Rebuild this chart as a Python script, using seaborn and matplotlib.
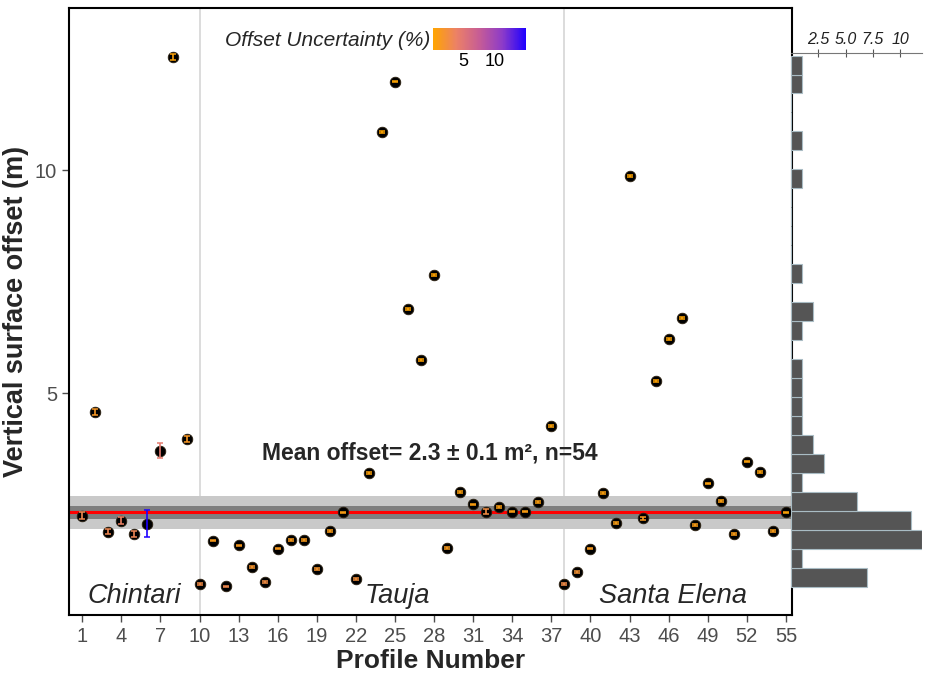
import numpy as np
import pandas as pd
import matplotlib
matplotlib.use("Agg")
import matplotlib.pyplot as plt
import seaborn as sns
from matplotlib.colors import LinearSegmentedColormap, Normalize
from matplotlib.cm import ScalarMappable

# Profile data
profile = list(range(1, 56))
offset = [2.26, 4.58, 1.90, 2.14, 1.85, 2.08, 3.71, 12.54, 3.98,
          0.73, 1.70, 0.67, 1.59, 1.10, 0.77, 1.52, 1.71, 1.71, 1.06,
          1.92, 2.33, 0.84, 3.22, 10.86, 11.99, 6.89, 5.75, 7.65, 1.54,
          2.78, 2.51, 2.35, 2.46, 2.35, 2.35, 2.56, 4.27,
          0.72, 0.99, 1.52, 2.76, 2.09, 9.87, 2.20, 5.28, 6.22, 6.69,
          2.04, 2.98, 2.59, 1.85, 3.47, 3.24, 1.92, 2.33]
error = [0.07, 0.07, 0.06, 0.08, 0.06, 0.31, 0.17, 0.07, 0.06,
         0.02, 0.02, 0.02, 0.02, 0.02, 0.02, 0.02, 0.02, 0.02, 0.02,
         0.02, 0.02, 0.02, 0.02, 0.02, 0.02, 0.02, 0.02, 0.02, 0.02,
         0.02, 0.02, 0.06, 0.02, 0.02, 0.02, 0.02, 0.02,
         0.02, 0.02, 0.02, 0.02, 0.02, 0.02, 0.03, 0.02, 0.02, 0.02,
         0.02, 0.02, 0.02, 0.02, 0.02, 0.02, 0.02, 0.01]

mean_offset = 2.33
band_outer = 0.37
band_inner = 0.14
segment_breaks = [10, 38]
regions = ["Chintari", "Tauja", "Santa Elena"]
region_x = [5, 25.2, 46.3]
hist_start, hist_width, hist_nbins = 0.655, 0.4257, 28

df = pd.DataFrame({"profile": profile, "offset": offset, "error": error})
df["pct"] = df["error"] / df["offset"] * 100

sns.set_style("white")
plt.rcParams["font.family"] = ["Liberation Sans", "DejaVu Sans"]

cmap = LinearSegmentedColormap.from_list(
    "unc", ["#FFA500", "#EC8166", "#C65C96", "#8C3BC9", "#1E00FF"])
norm = Normalize(df["pct"].min(), df["pct"].max())

fig = plt.figure(figsize=(9.35, 6.75), dpi=100)
ax = fig.add_axes([69 / 935, 60 / 675, 723 / 935, 607 / 675])
axh = fig.add_axes([791 / 935, 60 / 675, 131 / 935, 562 / 675])

ylo, yhi = 0.03, 13.64
ax.set_xlim(-0.02, 55.47)
ax.set_ylim(ylo, yhi)

for xb in segment_breaks:
    ax.axvline(xb, color="#D6D6D6", lw=1.2, zorder=0)
ax.axhspan(mean_offset - band_outer, mean_offset + band_outer, color="#C9C9C9", lw=0, zorder=1)
ax.axhspan(mean_offset - band_inner, mean_offset + band_inner, color="#7F7F7F", lw=0, zorder=1)
ax.axhline(mean_offset, color="#FF0000", lw=2.2, zorder=2)

sns.scatterplot(data=df, x="profile", y="offset", color="black", s=58,
                edgecolor="#2b2010", linewidth=0.6, zorder=3, ax=ax, legend=False)
for _, r in df.iterrows():
    ax.errorbar(r["profile"], r["offset"], yerr=r["error"], fmt="none",
                ecolor=cmap(norm(r["pct"])), elinewidth=1.2, capsize=2.2,
                capthick=1.1, zorder=4)

for name, xr in zip(regions, region_x):
    ax.text(xr, 0.45, name, ha="center", va="center", fontsize=19.5, style="italic")
ax.text(27.7, 3.66, "Mean offset= 2.3 ± 0.1 m², n=54", ha="center", va="center",
        fontsize=16.5, fontweight="bold")

ax.set_xticks(range(1, 56, 3))
ax.set_yticks([5, 10])
ax.tick_params(labelsize=14.5, labelcolor="#4D4D4D", color="#4D4D4D", length=5,
               width=1, left=True, bottom=True)
for s in ax.spines.values():
    s.set_color("black")
    s.set_linewidth(1.5)
ax.set_xlabel("Profile Number", fontsize=19, fontweight="bold", labelpad=2)
ax.set_ylabel("Vertical surface offset (m)", fontsize=19.5, fontweight="bold", labelpad=4)

# marginal histogram
edges = hist_start + hist_width * np.arange(hist_nbins + 1)
sns.histplot(y=df["offset"], bins=edges, ax=axh, color="#555555",
             edgecolor="#A9BCC4", linewidth=0.8, alpha=1)
ppu = 607 / (yhi - ylo)
axh.set_ylim(ylo, ylo + 562 / ppu)
axh.set_xlim(0, 12)
axh.xaxis.tick_top()
axh.set_xticks([2.5, 5, 7.5, 10])
axh.set_xticklabels(["2.5", "5.0", "7.5", "10"], style="italic")
axh.set_yticks([])
axh.set_xlabel("")
axh.set_ylabel("")
axh.tick_params(axis="x", direction="inout", length=6, color="#555555",
                labelsize=11.5, labelcolor="#222222", pad=1, top=True)
for side in ["right", "bottom", "left"]:
    axh.spines[side].set_visible(False)
axh.spines["top"].set_color("#777777")
axh.patch.set_alpha(0)

# colorbar legend
cax = fig.add_axes([433 / 935, 625 / 675, 93 / 935, 22 / 675])
cb = fig.colorbar(ScalarMappable(norm=norm, cmap=cmap), cax=cax, orientation="horizontal")
cb.set_ticks([5, 10])
cb.outline.set_visible(False)
cax.tick_params(axis="x", direction="in", length=4, color="white", width=1,
                labelsize=13, labelcolor="black", pad=2)
fig.text(430 / 935, 635 / 675, "Offset Uncertainty (%)", ha="right", va="center",
         fontsize=15, style="italic")

fig.savefig("out.png", dpi=100)
